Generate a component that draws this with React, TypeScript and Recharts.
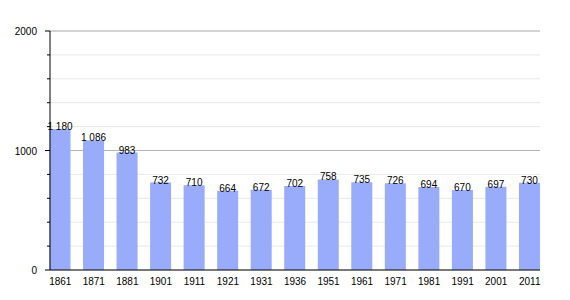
import React from 'react';
import {
  BarChart,
  Bar,
  XAxis,
  YAxis,
  CartesianGrid,
  LabelList
} from 'recharts';

const years = ['1861', '1871', '1881', '1901', '1911', '1921', '1931', '1936', '1951', '1961', '1971', '1981', '1991', '2001', '2011'];
const population = [1180, 1086, 983, 732, 710, 664, 672, 702, 758, 735, 726, 694, 670, 697, 730];
const yTicks = [0, 200, 400, 600, 800, 1000, 1200, 1400, 1600, 1800, 2000];
const majorTicks = [1000, 2000];

const data = years.map((year, i) => ({ year, population: population[i] }));

const FONT = '"Liberation Sans", Arial, sans-serif';

// thousands separated by a non-breaking space, so the label never wraps
const formatValue = (v: number) => String(v).replace(/\B(?=(\d{3})+(?!\d))/g, '\u00A0');

const YTick = (props: any) => {
  const { y, payload } = props;
  const major = payload.value % 1000 === 0;
  return (
    <g>
      <line x1={50 - (major ? 5 : 3)} x2={50} y1={y} y2={y} stroke="#000" strokeWidth={1} />
      {major && (
        <text x={37} y={y} dy={4} textAnchor="end" fontSize={10} fontFamily={FONT} fill="#000">
          {payload.value}
        </text>
      )}
    </g>
  );
};

const App: React.FC = () => {
  return (
    <div style={{ position: 'absolute', left: 0, top: 0, width: 570, height: 300, background: '#fff' }}>
      <BarChart
        width={570}
        height={300}
        data={data}
        margin={{ top: 31, right: 30, left: 0, bottom: 0 }}
      >
        {/* minor grid every 200, major grid (darker) on the labelled ticks, both behind the bars */}
        <CartesianGrid vertical={false} stroke="#e8e8e8" />
        <CartesianGrid vertical={false} horizontalValues={majorTicks} stroke="#b4b4b4" />
        <XAxis
          dataKey="year"
          height={30}
          interval={0}
          padding={{ left: -6.5, right: -6.5 }}
          axisLine={{ stroke: '#000' }}
          tickLine={false}
          tick={{ fill: '#000', fontSize: 10, fontFamily: FONT }}
          tickMargin={2}
        />
        <YAxis
          width={50}
          domain={[0, 2000]}
          ticks={yTicks}
          interval={0}
          axisLine={{ stroke: '#000' }}
          tickLine={false}
          tick={<YTick />}
        />
        <Bar dataKey="population" fill="#99abfb" barSize={21} isAnimationActive={false}>
          <LabelList
            dataKey="population"
            position="top"
            offset={-1}
            formatter={(v: any) => formatValue(Number(v))}
            style={{ fill: '#000', fontSize: 10, fontFamily: FONT }}
          />
        </Bar>
      </BarChart>
    </div>
  );
};

export default App;
